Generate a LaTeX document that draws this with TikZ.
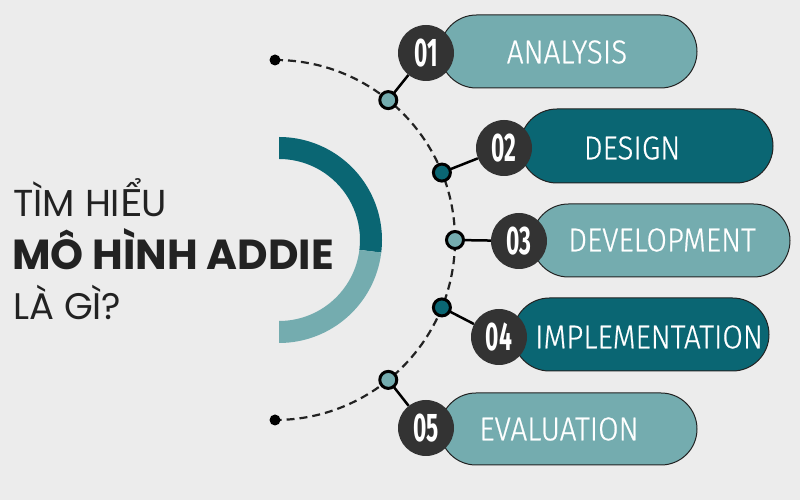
\documentclass[tikz,border=0pt]{standalone}
\usepackage{fontspec}
\usetikzlibrary{calc,shapes.misc}
\newfontfamily\popfont{Poppins}
\newfontfamily\vietfont{Lato}
\newfontfamily\numfont[FakeStretch=0.57]{Fira Sans}
\newfontfamily\pillfont[FakeStretch=0.9,FakeBold=0.6]{Fira Sans Light}
\definecolor{bgc}{HTML}{ECECEC}
\definecolor{darkteal}{HTML}{0A6673}
\definecolor{lightteal}{HTML}{74ACAF}
\definecolor{numgray}{HTML}{333333}
\definecolor{inkc}{HTML}{222222}
\begin{document}
\begin{tikzpicture}[x=1pt,y=1pt,
  pill/.style={rounded rectangle, draw=inkc, line width=1pt, inner sep=0pt},
  numc/.style={circle, fill=numgray, minimum size=56pt, inner sep=0pt, text=white, font=\numfont\bfseries\fontsize{40}{40}\selectfont},
  dotc/.style={circle, draw=black, line width=3pt, minimum size=17pt, inner sep=0pt},
  enddot/.style={circle, fill=black, minimum size=11pt, inner sep=0pt},
  link/.style={line width=2.5pt, draw=black},
  pilltext/.style={text=white, inner sep=0pt, font=\pillfont\fontsize{33}{33}\selectfont},
  headtext/.style={text=inkc, inner sep=0pt, anchor=base west}
]
\fill[bgc] (0,0) rectangle (800,500);
\useasboundingbox (0,0) rectangle (800,500);
% half ring
\coordinate (R) at (279,260);
\fill[darkteal] ($(R)+(90:103pt)$) arc[start angle=90, end angle=-7, radius=103pt]
  -- ($(R)+(-7:81pt)$) arc[start angle=-7, end angle=90, radius=81pt] -- cycle;
\fill[lightteal] ($(R)+(-7:103pt)$) arc[start angle=-7, end angle=-90, radius=103pt]
  -- ($(R)+(-90:81pt)$) arc[start angle=-90, end angle=-7, radius=81pt] -- cycle;
% dashed arc
\coordinate (C) at (275,260);
\draw[inkc, line width=2.2pt, dash pattern=on 8pt off 5pt] ($(C)+(90:180pt)$) arc[start angle=90, end angle=-90, radius=180pt];
\node[enddot] (e1) at ($(C)+(90:180pt)$) {};
\node[enddot] (e2) at ($(C)+(-90:180pt)$) {};
% pills
\node[pill, fill=lightteal, minimum width=257pt, minimum height=73pt] (p1) at (568.5,448.5) {};
\node[pill, fill=darkteal, minimum width=253pt, minimum height=74pt] (p2) at (646.5,354) {};
\node[pill, fill=lightteal, minimum width=258pt, minimum height=73pt] (p3) at (661,259.5) {};
\node[pill, fill=darkteal, minimum width=256pt, minimum height=73pt] (p4) at (641,165.5) {};
\node[pill, fill=lightteal, minimum width=257pt, minimum height=72pt] (p5) at (568.5,71) {};
\node[pilltext] (t1) at (567,448) {ANALYSIS};
\node[pilltext] (t2) at (632,352) {DESIGN};
\node[pilltext] (t3) at (662,260) {DEVELOPMENT};
\node[pilltext] (t4) at (649,163) {IMPLEMENTATION};
\node[pilltext] (t5) at (559,71) {EVALUATION};
% number circles
\node[numc] (n1) at (426,447) {01};
\node[numc] (n2) at (504,352) {02};
\node[numc] (n3) at (519,259) {03};
\node[numc] (n4) at (499,163) {04};
\node[numc] (n5) at (426,72) {05};
% small circles on arc
\coordinate (a1) at ($(C)+(51:180pt)$);
\coordinate (a2) at ($(C)+(22:180pt)$);
\coordinate (a3) at ($(C)+(0:180pt)$);
\coordinate (a4) at ($(C)+(-22:180pt)$);
\coordinate (a5) at ($(C)+(-51:180pt)$);
\draw[link] (a1) -- (n1);
\draw[link] (a2) -- (n2);
\draw[link] (a3) -- (n3);
\draw[link] (a4) -- (n4);
\draw[link] (a5) -- (n5);
\node[dotc, fill=lightteal] (s1) at (a1) {};
\node[dotc, fill=darkteal] (s2) at (a2) {};
\node[dotc, fill=lightteal] (s3) at (a3) {};
\node[dotc, fill=darkteal] (s4) at (a4) {};
\node[dotc, fill=lightteal] (s5) at (a5) {};
% heading
\node[headtext, font=\popfont\fontsize{37.5}{37.5}\selectfont] (h1) at (13,283) {TÌM HI{\vietfont Ể}U};
\node[headtext, font=\popfont\bfseries\fontsize{42}{42}\selectfont] (h2) at (12,230) {MÔ HÌNH ADDIE};
\node[headtext, font=\popfont\fontsize{37}{37}\selectfont] (h3) at (13,180) {LÀ GÌ?};
\end{tikzpicture}
\end{document}
